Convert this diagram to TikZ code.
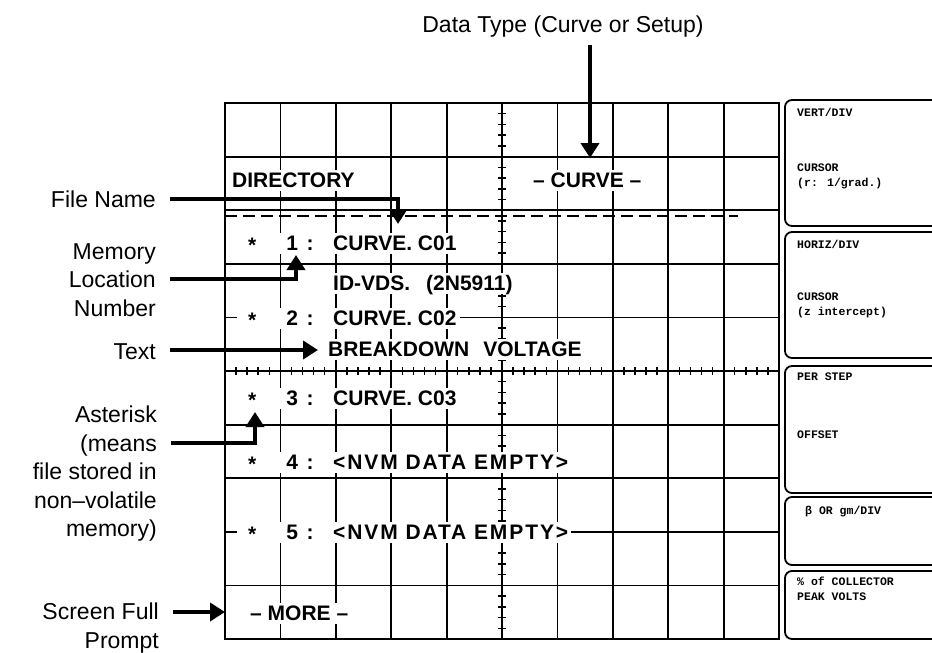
\documentclass[tikz,border=0pt]{standalone}
\usepackage{fontspec}
\setmainfont{Liberation Sans}
\newfontfamily\panelfont{Liberation Mono}
\usetikzlibrary{arrows.meta,calc,positioning}

\newcommand{\dirline}[1]{\makebox[93pt][l]{\hspace*{12pt}\makebox[0pt]{\raisebox{-.2ex}{*}}\hspace*{40pt}\makebox[0pt]{#1}\hspace*{18pt}\makebox[0pt]{:}}}
\newcommand{\nvmempty}{{\addfontfeatures{LetterSpace=9}<NVM DATA EMPTY>}}

\tikzset{
    gridline/.style={line width=1.8pt},
    labeltext/.style={font=\fontsize{23}{28.5}\selectfont, align=right, anchor=east, inner sep=0pt},
    screentext/.style={font=\fontsize{21}{24}\selectfont\bfseries, fill=white, inner xsep=3pt, inner ysep=3pt,
        anchor=west, text height=15pt, text depth=0pt},
    paneltext/.style={font=\panelfont\fontsize{11.5}{15}\selectfont\bfseries, anchor=west, inner sep=0pt, align=left},
    callout/.style={line width=4pt, -{Triangle[width=18pt,length=15pt]}, shorten <=14pt},
    softkey/.style={line width=1.8pt, rounded corners=7pt}
}

\begin{document}
\begin{tikzpicture}[x=1pt, y=-1pt]
                        \useasboundingbox (0,0) rectangle (932,653);
                        \draw[gridline] (225,103) rectangle (779,639);
                        \foreach \i in {1,...,9}
                            \draw[gridline] ({225+55.4*\i},103) -- ({225+55.4*\i},639);
                        \foreach \j in {1,...,9}
                            \draw[gridline] (225,{103+53.6*\j}) -- (779,{103+53.6*\j});
                        \foreach \k in {1,...,49}
                            \draw[line width=1.5pt] (498,{103+10.72*\k}) -- (506,{103+10.72*\k});
                        \foreach \k in {1,...,49}
                            \draw[line width=1.5pt] ({225+11.08*\k},367) -- ({225+11.08*\k},375);
                        \draw[line width=2.5pt, dash pattern=on 12pt off 6pt] (225,216) -- (738,216);
                        \begin{scope}
                            \clip (0,0) rectangle (932,653);
                            \draw[softkey] (785,100) rectangle (960,226);
                            \draw[softkey] (785,232) rectangle (960,358);
                            \draw[softkey] (785,366) rectangle (960,493);
                            \draw[softkey] (785,497) rectangle (960,565);
                            \draw[softkey] (785,571) rectangle (960,639);
                        \end{scope}
                        \node[paneltext] (vertdiv) at (797,112) {VERT/DIV};
                        \node[paneltext] (cursorr) at (797,176) {CURSOR\\(r: 1/grad.)};
                        \node[paneltext] (horizdiv) at (797,244) {HORIZ/DIV};
                        \node[paneltext] (cursorz) at (797,305) {CURSOR\\(z intercept)};
                        \node[paneltext] (perstep) at (797,377) {PER STEP};
                        \node[paneltext] (offset) at (797,435) {OFFSET};
                        \node[paneltext] (betagm) at (805,512) {β OR gm/DIV};
                        \node[paneltext] (peakvolts) at (797,589) {\% of COLLECTOR\\PEAK VOLTS};
                        \node[screentext] (dirtitle) at (229,180) {DIRECTORY};
                        \node[screentext] (curvetype) at (530,180) {-- CURVE --};
                        \node[screentext] (row1) at (237,243) {\dirline{1}CURVE. C01};
                        \node[screentext] (row1note) at (330,283) {ID-VDS.\hspace{16pt}(2N5911)};
                        \node[screentext] (row2) at (237,318) {\dirline{2}CURVE. C02};
                        \node[screentext] (row2note) at (325,349) {BREAKDOWN\hspace{14pt}VOLTAGE};
                        \node[screentext] (row3) at (237,398) {\dirline{3}CURVE. C03};
                        \node[screentext] (row4) at (237,462) {\dirline{4}\nvmempty};
                        \node[screentext] (row5) at (237,532) {\dirline{5}\nvmempty};
                        \node[screentext] (more) at (247,613) {-- MORE --};
                        \node[labeltext, anchor=center] (lbltype) at (563,27) {Data Type (Curve or Setup)};
                        \node[labeltext] (lblfile) at (156,199) {File Name};
                        \node[labeltext] (lblmem) at (156,280) {Memory\\Location\\Number};
                        \node[labeltext] (lbltext) at (156,352) {Text};
                        \node[labeltext, anchor=north east] (lblstar) at (157,406) {Asterisk\\(means\\file stored in\\non--volatile\\memory)};
                        \node[labeltext, anchor=north east] (lblmore) at (159,603) {Screen Full\\Prompt};
                        \coordinate (typetip) at (590,158);
                        \coordinate (filebend) at (398,199);
                        \coordinate (filetip) at (398,224);
                        \coordinate (membend) at (296,279);
                        \coordinate (memtip) at (296,255);
                        \coordinate (texttip) at (318,350);
                        \coordinate (starbend) at (255,443);
                        \coordinate (startip) at (255,412);
                        \coordinate (moretip) at (225,612);
                        \draw[callout, shorten <=7pt] (lbltype.south -| typetip) -- (typetip);
                        \draw[callout] (lblfile.east |- filebend) -- (filebend) -- (filetip);
                        \draw[callout] (lblmem.east |- membend) -- (membend) -- (memtip);
                        \draw[callout] (lbltext.east |- texttip) -- (texttip);
                        \draw[callout] (lblstar.east |- starbend) -- (starbend) -- (startip);
                        \draw[callout] (lblmore.east |- moretip) -- (moretip);
                    \end{tikzpicture}
\end{document}
